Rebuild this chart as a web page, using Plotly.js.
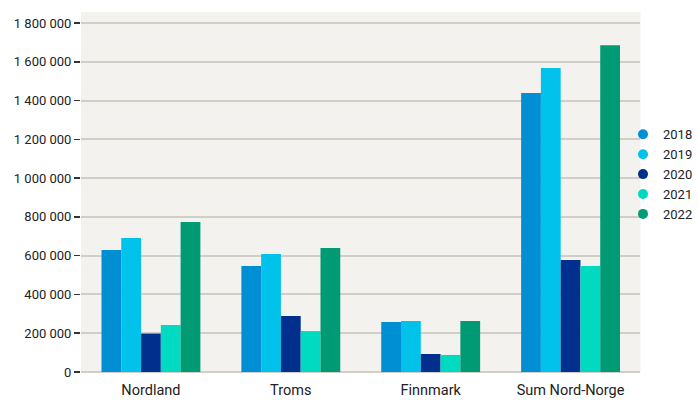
<!DOCTYPE html>
<html>
<head>
<meta charset="utf-8">
<script src="https://cdn.plot.ly/plotly-3.0.1.min.js"></script>
<style>html,body{margin:0;padding:0;background:#fff;}#chart{width:698px;height:400px;}</style>
</head>
<body>
<div id="chart"></div>
<script>
const categories = ["Nordland", "Troms", "Finnmark", "Sum Nord-Norge"];
const years = ["2018", "2019", "2020", "2021", "2022"];
const v2018 = [629000, 547000, 258000, 1439000];
const v2019 = [691000, 609000, 263000, 1568000];
const v2020 = [198000, 289000, 93000, 578000];
const v2021 = [242000, 211000, 88000, 547000];
const v2022 = [774000, 640000, 263000, 1686000];
const seriesValues = [v2018, v2019, v2020, v2021, v2022];
const colors = ["#008fd3", "#00c2ea", "#002f8e", "#00dac0", "#009b74"];
const tickVals = [0, 200000, 400000, 600000, 800000, 1000000, 1200000, 1400000, 1600000, 1800000];

const FONT = 'Roboto, "Liberation Sans", sans-serif';
const traces = [];
years.forEach((yr, i) => {
  traces.push({
    type: "bar", x: categories, y: seriesValues[i], name: yr,
    marker: {color: colors[i]}, showlegend: false, hoverinfo: "x+y"
  });
});
years.forEach((yr, i) => {
  traces.push({
    type: "scatter", mode: "markers", x: [null], y: [null], name: yr,
    marker: {color: colors[i], size: 10, symbol: "circle"}, showlegend: true
  });
});

const layout = {
  width: 698, height: 400,
  margin: {l: 81, r: 0, t: 12, b: 28},
  paper_bgcolor: "#ffffff",
  plot_bgcolor: "#f3f2ee",
  barmode: "group", bargap: 0.293, bargroupgap: 0,
  separators: ", ",
  font: {family: FONT, size: 13, color: "#222"},
  xaxis: {
    type: "category", domain: [0, 0.9068], showgrid: false, ticks: "", showline: false, zeroline: false,
    tickfont: {family: FONT, size: 14.5, color: "#222"}, ticklabelstandoff: 7
  },
  yaxis: {
    range: [0, 1857000], tickvals: tickVals, tickformat: ",d",
    showgrid: true, gridcolor: "#d1cec8", gridwidth: 2,
    zeroline: true, zerolinecolor: "#d1cec8", zerolinewidth: 2,
    ticks: "outside", ticklen: 6, tickwidth: 1.5, tickcolor: "#333",
    tickfont: {family: FONT, size: 13, color: "#222"}, showline: false
  },
  legend: {
    x: 1.0, xanchor: "right", y: 0.549, yanchor: "middle",
    font: {family: FONT, size: 13, color: "#222"},
    bgcolor: "rgba(0,0,0,0)", itemwidth: 30, tracegroupgap: 0
  },
  showlegend: true
};
Plotly.newPlot("chart", traces, layout, {staticPlot: true, displayModeBar: false});
</script>
</body>
</html>
